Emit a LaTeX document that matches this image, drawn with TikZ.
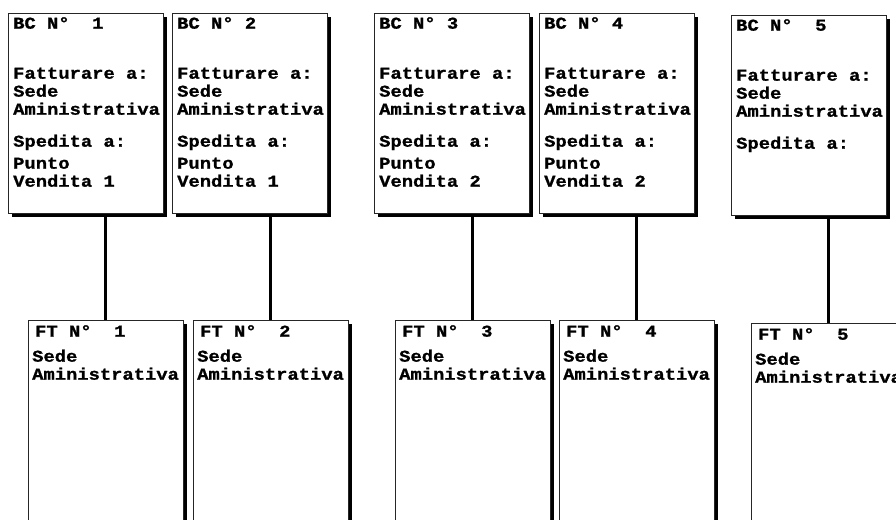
\documentclass[tikz,border=0pt]{standalone}
\usepackage{fontspec}
\newfontfamily\docfont[FakeStretch=1.14,BoldFeatures={FakeBold=1}]{Liberation Mono}
\usetikzlibrary{positioning,shadows}

\begin{document}
\begin{tikzpicture}[x=1pt,y=-1pt,
  every node/.style={font=\docfont\bfseries\fontsize{16.5}{18}\selectfont},
  doc/.style={draw=black!85,line width=0.9pt,fill=white,anchor=north west,
    minimum width=155pt,inner sep=0pt,
    drop shadow={shadow xshift=4pt,shadow yshift=-4pt,opacity=1,fill=black}},
  bcbox/.style={doc,minimum height=200pt},
  ftbox/.style={doc,minimum height=230pt},
  txt/.style={anchor=north west,align=left,inner sep=0pt},
  link/.style={line width=3pt}
]
  \useasboundingbox (0,0) rectangle (896,519);
  \clip (0,0) rectangle (896,519);
  % buoni di consegna
  \node[bcbox] (bc1) at (8,13) {};
  \node[bcbox] (bc2) at (172,13) {};
  \node[bcbox] (bc3) at (374,13) {};
  \node[bcbox] (bc4) at (539,13) {};
  \node[bcbox] (bc5) at (731,15) {};
  \node[txt] (bc1t) at ([shift={(5,4)}]bc1.north west)
    {BC N°\ \ 1\\[32pt]Fatturare a:\\Sede\\Aministrativa\\[14pt]Spedita a:\\[4pt]Punto\\Vendita 1};
  \node[txt] (bc2t) at ([shift={(5,4)}]bc2.north west)
    {BC N° 2\\[32pt]Fatturare a:\\Sede\\Aministrativa\\[14pt]Spedita a:\\[4pt]Punto\\Vendita 1};
  \node[txt] (bc3t) at ([shift={(5,4)}]bc3.north west)
    {BC N° 3\\[32pt]Fatturare a:\\Sede\\Aministrativa\\[14pt]Spedita a:\\[4pt]Punto\\Vendita 2};
  \node[txt] (bc4t) at ([shift={(5,4)}]bc4.north west)
    {BC N° 4\\[32pt]Fatturare a:\\Sede\\Aministrativa\\[14pt]Spedita a:\\[4pt]Punto\\Vendita 2};
  \node[txt] (bc5t) at ([shift={(5,4)}]bc5.north west)
    {BC N°\ \ 5\\[32pt]Fatturare a:\\Sede\\Aministrativa\\[14pt]Spedita a:};
  % fatture
  \node[ftbox] (ft1) at (28,320) {};
  \node[ftbox] (ft2) at (193,320) {};
  \node[ftbox] (ft3) at (395,320) {};
  \node[ftbox] (ft4) at (559,320) {};
  \node[ftbox] (ft5) at (751,323) {};
  \node[txt] (ft1t) at ([shift={(4,5)}]ft1.north west)
    {\hspace*{3pt}FT N°\ \ 1\\[7pt]Sede\\Aministrativa};
  \node[txt] (ft2t) at ([shift={(4,5)}]ft2.north west)
    {\hspace*{3pt}FT N°\ \ 2\\[7pt]Sede\\Aministrativa};
  \node[txt] (ft3t) at ([shift={(4,5)}]ft3.north west)
    {\hspace*{3pt}FT N°\ \ 3\\[7pt]Sede\\Aministrativa};
  \node[txt] (ft4t) at ([shift={(4,5)}]ft4.north west)
    {\hspace*{3pt}FT N°\ \ 4\\[7pt]Sede\\Aministrativa};
  \node[txt] (ft5t) at ([shift={(4,5)}]ft5.north west)
    {\hspace*{3pt}FT N°\ \ 5\\[7pt]Sede\\Aministrativa};
  % collegamenti
  \draw[link] (ft1.north) -- (ft1.north |- bc1.south);
  \draw[link] (ft2.north) -- (ft2.north |- bc2.south);
  \draw[link] (ft3.north) -- (ft3.north |- bc3.south);
  \draw[link] (ft4.north) -- (ft4.north |- bc4.south);
  \draw[link] (ft5.north) -- (ft5.north |- bc5.south);
\end{tikzpicture}
\end{document}
